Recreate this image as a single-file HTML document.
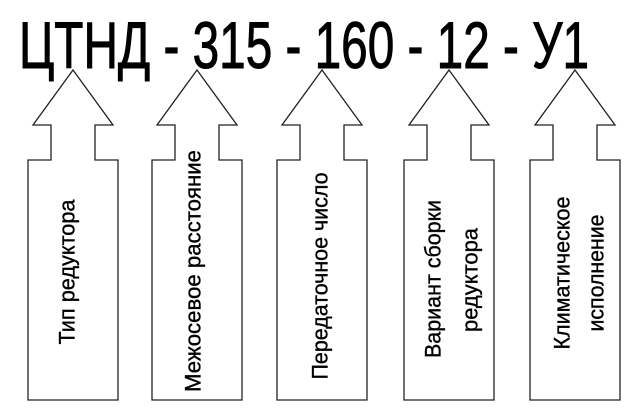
<!DOCTYPE html>
<html><head><meta charset="utf-8"><style>
html,body{margin:0;padding:0;background:#fff;}
svg{display:block}
</style></head><body>
<svg width="640" height="409" viewBox="0 0 640 409" xmlns="http://www.w3.org/2000/svg">
<rect width="640" height="409" fill="#fff"/>
<text x="19" y="68" font-family="Liberation Sans, sans-serif" font-size="66" textLength="570" lengthAdjust="spacingAndGlyphs" fill="#000" stroke="#000" stroke-width="1">ЦТНД - 315 - 160 - 12 - У1</text>
<g fill="#fff" stroke="#222" stroke-width="1.3">
<path id="a" d="M73,70 L113,125 L95,125 L95,160 L118,160 L118,400 L28,400 L28,160 L51,160 L51,125 L33,125 Z"/>
<use href="#a" x="124"/>
<use href="#a" x="249"/>
<use href="#a" x="376"/>
<use href="#a" x="502"/>
</g>
<g font-family="Liberation Sans, sans-serif" font-size="22" fill="#000" stroke="#000" stroke-width="0.35" text-anchor="middle" dominant-baseline="central">
<text transform="translate(67,272) rotate(-90)" textLength="145" lengthAdjust="spacingAndGlyphs">Тип редуктора</text>
<text transform="translate(193,271) rotate(-90)" textLength="242" lengthAdjust="spacingAndGlyphs">Межосевое расстояние</text>
<text transform="translate(320,276) rotate(-90)" textLength="207" lengthAdjust="spacingAndGlyphs">Передаточное число</text>
<text transform="translate(433,279) rotate(-90)" textLength="158" lengthAdjust="spacingAndGlyphs">Вариант сборки</text>
<text transform="translate(470,280) rotate(-90)" textLength="104" lengthAdjust="spacingAndGlyphs">редуктора</text>
<text transform="translate(562,273) rotate(-90)" textLength="153" lengthAdjust="spacingAndGlyphs">Климатическое</text>
<text transform="translate(596,273) rotate(-90)" textLength="117" lengthAdjust="spacingAndGlyphs">исполнение</text>
</g>
</svg>
</body></html>
